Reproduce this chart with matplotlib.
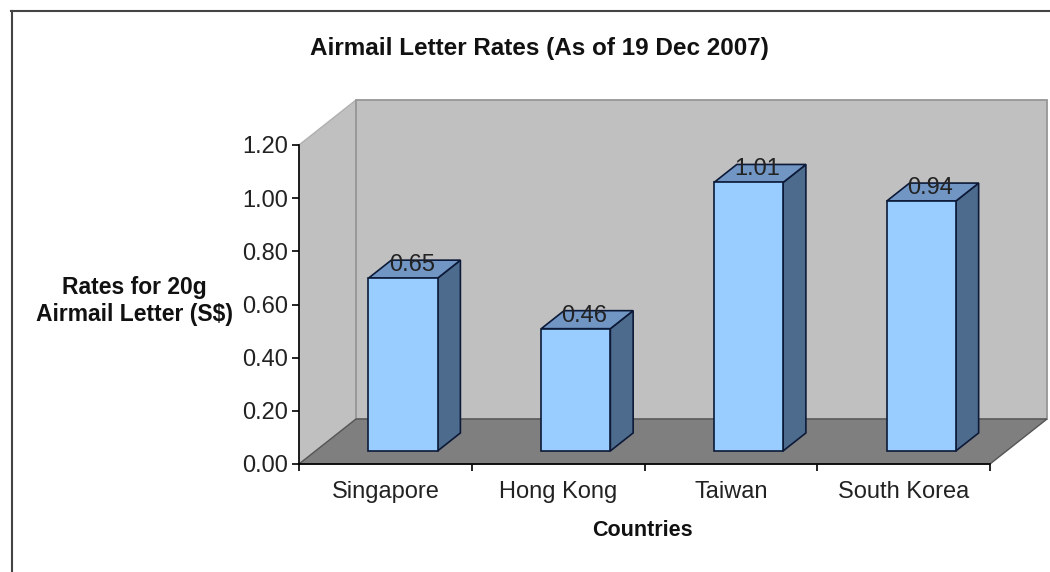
import matplotlib
matplotlib.use('Agg')
import matplotlib.pyplot as plt
from matplotlib.patches import Polygon, Rectangle

plt.rcParams['font.family'] = ['Liberation Sans', 'DejaVu Sans']

countries = ['Singapore', 'Hong Kong', 'Taiwan', 'South Korea']
rates = [0.65, 0.46, 1.01, 0.94]
y_ticks = [0.0, 0.2, 0.4, 0.6, 0.8, 1.0, 1.2]

W, H = 1050, 572
fig = plt.figure(figsize=(W / 100, H / 100), dpi=100, facecolor='white')

# axes is the front plane of the fake 3d box
ax = fig.add_axes([299 / W, (H - 464) / H, 691 / W, 319 / H], facecolor='none')
ax.set_xlim(0, len(countries))
ax.set_ylim(0, 1.2)

# depth of the box in data units
DX = 57 / 691 * len(countries)
DY = 45 / 319 * 1.2
Y_MAX = 1.2
N = len(countries)


def shape(pts, **kw):
    ax.add_patch(Polygon(pts, closed=True, clip_on=False, **kw))


# walls and floor
shape([(0, 0), (DX, DY), (DX, Y_MAX + DY), (0, Y_MAX)], fc='#c0c0c0', ec='#b0b0b0', lw=1, zorder=1)
shape([(DX, DY), (N + DX, DY), (N + DX, Y_MAX + DY), (DX, Y_MAX + DY)], fc='#c0c0c0', ec='#969696', lw=1.3, zorder=1)
shape([(0, 0), (N, 0), (N + DX, DY), (DX, DY)], fc='#7f7f7f', ec='#555555', lw=1, zorder=2)

# bars, front face sits a bit into the box
bar_w = 0.4
front_x = 0.31
front_y = 0.29
depth = 0.40
for i, v in enumerate(rates):
    x0 = i + 0.5 - bar_w / 2 + front_x * DX
    x1 = x0 + bar_w
    y0 = front_y * DY
    y1 = y0 + v
    ddx, ddy = depth * DX, depth * DY
    shape([(x1, y0), (x1 + ddx, y0 + ddy), (x1 + ddx, y1 + ddy), (x1, y1)],
          fc='#4d6b8c', ec='#0c1a38', lw=1.2, zorder=3)
    shape([(x0, y1), (x1, y1), (x1 + ddx, y1 + ddy), (x0 + ddx, y1 + ddy)],
          fc='#7296c4', ec='#0c1a38', lw=1.2, zorder=3)
    ax.add_patch(Rectangle((x0, y0), bar_w, v, fc='#99ccff', ec='#0c1a38', lw=1.2, zorder=4, clip_on=False))
    ax.text(x0 + bar_w / 2 + 0.38 * ddx, y1 + 0.72 * ddy, '%.2f' % v, ha='center', va='center',
            fontsize=17, color='#222222', zorder=5)

# axes
for s in ['top', 'right']:
    ax.spines[s].set_visible(False)
ax.spines['left'].set_linewidth(1.2)
ax.spines['bottom'].set_linewidth(1.2)
ax.spines['left'].set_zorder(6)
ax.spines['bottom'].set_zorder(6)
ax.set_yticks(y_ticks)
ax.set_yticklabels(['%.2f' % t for t in y_ticks])
ax.set_xticks(range(N + 1))
ax.set_xticklabels([])
ax.set_xticks([i + 0.5 for i in range(N)], minor=True)
ax.set_xticklabels(countries, minor=True)
ax.tick_params(axis='y', labelsize=17, length=5, width=1.2, pad=3, labelcolor='#222222')
ax.tick_params(axis='x', which='major', length=5, width=1.2)
ax.tick_params(axis='x', which='minor', length=0, labelsize=17, pad=12, labelcolor='#222222')

fig.text(539 / W, 1 - 49 / H, 'Airmail Letter Rates (As of 19 Dec 2007)', ha='center', va='center',
         fontsize=17.5, fontweight='bold', color='#111111')
fig.text(642 / W, 1 - 531 / H, 'Countries', ha='center', va='center', fontsize=15.5, fontweight='bold', color='#111111')
fig.text(134 / W, 1 - 301 / H, 'Rates for 20g\nAirmail Letter (S$)', ha='center', va='center',
         fontsize=16.5, fontweight='bold', color='#111111', linespacing=1.2)

# outer chart border, only top and left are inside the crop
fig.add_artist(plt.Line2D([11.5 / W, 11.5 / W], [0, 1 - 11 / H], color='#444444', lw=1.5))
fig.add_artist(plt.Line2D([11 / W, 1], [1 - 11 / H, 1 - 11 / H], color='#444444', lw=1.5))

fig.savefig('out.png', dpi=100)
